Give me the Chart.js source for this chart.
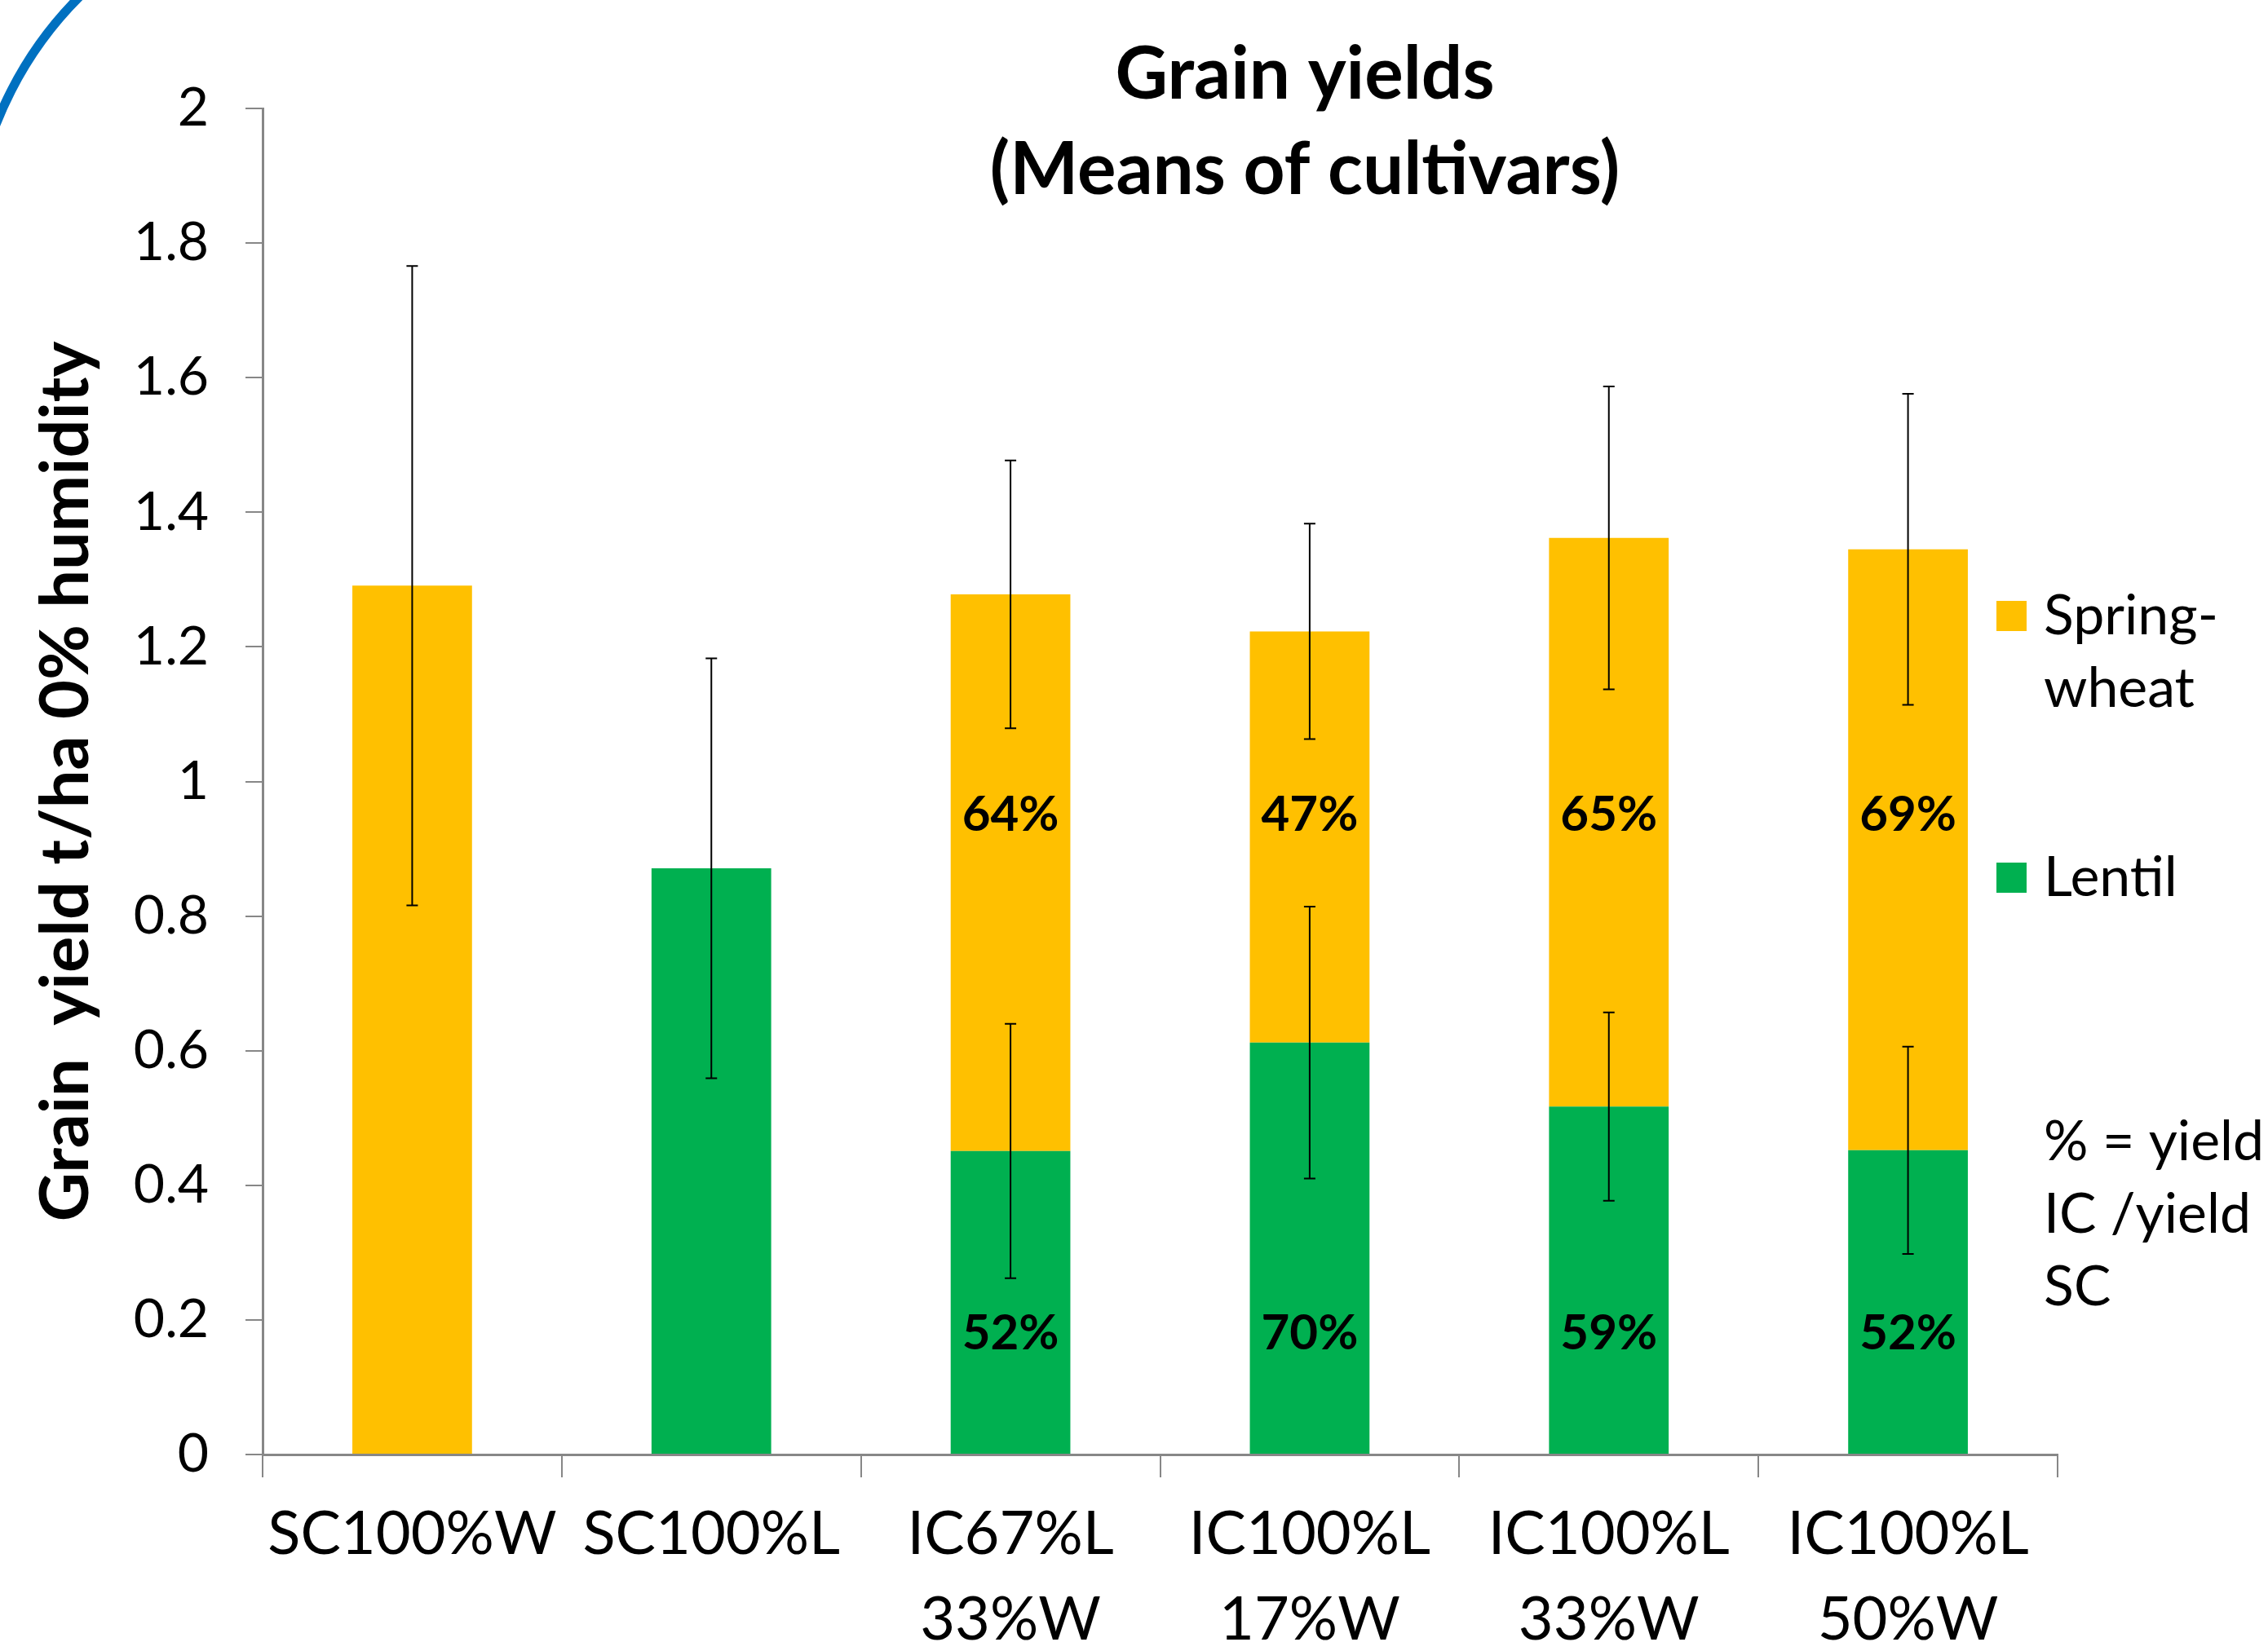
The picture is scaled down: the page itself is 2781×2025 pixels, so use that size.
<!DOCTYPE html>
<html>
<head>
<meta charset="utf-8">
<script src="https://cdn.jsdelivr.net/npm/chart.js@4.4.1/dist/chart.umd.min.js"></script>
<style>
  html, body { margin: 0; padding: 0; background: #ffffff; }
  #wrap { width: 2781px; height: 2025px; }
</style>
</head>
<body>
<div id="wrap"><canvas id="grainYieldChart" width="2781" height="2025"></canvas></div>
<script>
// categories (multi-line x labels)
const categories = [
    ['SC100%W'],
    ['SC100%L'],
    ['IC67%L', '33%W'],
    ['IC100%L', '17%W'],
    ['IC100%L', '33%W'],
    ['IC100%L', '50%W']
];

// grain yield, t/ha (stacked: lentil at the bottom, spring-wheat on top)
const lentilYield = [null, 0.871, 0.451, 0.612, 0.517, 0.452];
const wheatYield  = [1.291, null, 0.827, 0.611, 0.845, 0.893];

// +/- error (drawn at the top of each segment)
const lentilErr = [null, 0.312, 0.189, 0.202, 0.140, 0.154];
const wheatErr  = [0.475, null, 0.199, 0.160, 0.225, 0.231];

// yield IC / yield SC labels
const lentilPct = [null, null, '52%', '70%', '59%', '52%'];
const wheatPct  = [null, null, '64%', '47%', '65%', '69%'];

const yTickLabels = ['0', '0.2', '0.4', '0.6', '0.8', '1', '1.2', '1.4', '1.6', '1.8', '2'];

const titleLines = ['Grain yields', '(Means of cultivars)'];
const noteLines = ['% = yield', 'IC /yield', 'SC'];

const FONT = 'Lato, "Open Sans", sans-serif';
const WHEAT = '#FFC000';
const LENTIL = '#00B050';
const AXIS_GREY = '#878787';

/* Draws the error bars, the % labels, the title, the legend and the
   blue slide arc. Everything is placed through the chart's own scales. */
const extrasPlugin = {
    id: 'extras',
    beforeDraw(chart) {
        const ctx = chart.ctx;
        ctx.save();
        ctx.fillStyle = '#ffffff';
        ctx.fillRect(0, 0, chart.width, chart.height);
        // slide decoration arc in the top-left corner
        ctx.strokeStyle = '#0070C0';
        ctx.lineWidth = 11;
        ctx.beginPath();
        ctx.arc(419, 318, 455, Math.PI * 0.9, Math.PI * 1.5);
        ctx.stroke();
        ctx.restore();
    },
    afterDatasetsDraw(chart) {
        const ctx = chart.ctx;
        const x = chart.scales.x;
        const y = chart.scales.y;
        ctx.save();

        // error bars
        ctx.strokeStyle = '#000000';
        ctx.lineWidth = 2;
        const cap = 7;
        categories.forEach((c, i) => {
            const cx = x.getPixelForValue(i);
            const bars = [];
            if (lentilErr[i] != null) bars.push([lentilYield[i] || 0, lentilErr[i]]);
            if (wheatErr[i] != null) bars.push([(lentilYield[i] || 0) + wheatYield[i], wheatErr[i]]);
            bars.forEach(([v, e]) => {
                const yt = y.getPixelForValue(v + e);
                const yb = y.getPixelForValue(v - e);
                ctx.beginPath();
                ctx.moveTo(cx, yt); ctx.lineTo(cx, yb);
                ctx.moveTo(cx - cap, yt); ctx.lineTo(cx + cap, yt);
                ctx.moveTo(cx - cap, yb); ctx.lineTo(cx + cap, yb);
                ctx.stroke();
            });
        });

        // percentage labels
        ctx.fillStyle = '#000000';
        ctx.font = 'bold 60px ' + FONT;
        ctx.textAlign = 'center';
        ctx.textBaseline = 'middle';
        categories.forEach((c, i) => {
            const cx = x.getPixelForValue(i);
            if (wheatPct[i]) ctx.fillText(wheatPct[i], cx, y.getPixelForValue(0.95));
            if (lentilPct[i]) ctx.fillText(lentilPct[i], cx, y.getPixelForValue(0.18));
        });

        // title
        ctx.font = 'bold 89px ' + FONT;
        ctx.textBaseline = 'alphabetic';
        ctx.fillText(titleLines[0], 1600, 121);
        ctx.fillText(titleLines[1], 1600, 238);

        // legend (stack order reversed, like the source)
        ctx.textAlign = 'left';
        ctx.textBaseline = 'middle';
        ctx.font = '68px ' + FONT;
        const items = chart.data.datasets.slice().reverse();
        const rows = [756, 1077];
        items.forEach((ds, k) => {
            const top = rows[k];
            ctx.fillStyle = ds.backgroundColor;
            ctx.fillRect(2448, top - 19, 37, 37);
            ctx.fillStyle = '#000000';
            const parts = ds.label.includes('-') ? [ds.label.split('-')[0] + '-', ds.label.split('-')[1]] : [ds.label];
            parts.forEach((p, j) => ctx.fillText(p, 2506, top + j * 89));
        });
        noteLines.forEach((t, j) => ctx.fillText(t, 2506, 1401 + j * 89));

        ctx.restore();
    }
};

new Chart(document.getElementById('grainYieldChart').getContext('2d'), {
    type: 'bar',
    data: {
        labels: categories,
        datasets: [
            {
                label: 'Lentil',
                data: lentilYield,
                backgroundColor: LENTIL,
                categoryPercentage: 1,
                barPercentage: 0.4
            },
            {
                label: 'Spring-wheat',
                data: wheatYield,
                backgroundColor: WHEAT,
                categoryPercentage: 1,
                barPercentage: 0.4
            }
        ]
    },
    options: {
        responsive: false,
        animation: false,
        devicePixelRatio: 1,
        layout: { padding: { left: 0, right: 258, top: 133, bottom: 0 } },
        plugins: {
            legend: { display: false },
            title: { display: false },
            tooltip: { enabled: false }
        },
        scales: {
            x: {
                stacked: true,
                afterFit: (s) => { s.height = 241; },
                border: { color: AXIS_GREY, width: 3 },
                grid: {
                    offset: true,
                    drawOnChartArea: false,
                    drawTicks: true,
                    tickLength: 28,
                    color: AXIS_GREY,
                    lineWidth: 2
                },
                ticks: {
                    color: '#000000',
                    padding: 18,
                    maxRotation: 0,
                    autoSkip: false,
                    font: { family: FONT, size: 74, lineHeight: 1.42 }
                }
            },
            y: {
                stacked: true,
                min: 0,
                max: 2,
                afterFit: (s) => { s.width = 322; },
                border: { color: AXIS_GREY, width: 3 },
                grid: {
                    drawOnChartArea: false,
                    drawTicks: true,
                    tickLength: 21,
                    color: AXIS_GREY,
                    lineWidth: 2
                },
                ticks: {
                    stepSize: 0.2,
                    color: '#000000',
                    padding: 45,
                    font: { family: FONT, size: 66 },
                    callback: (v, i) => yTickLabels[i]
                },
                title: {
                    display: true,
                    text: 'Grain  yield t/ha 0% humidity',
                    color: '#000000',
                    font: { family: FONT, size: 83, weight: 'bold' },
                    padding: { top: 31, bottom: 0 }
                }
            }
        }
    },
    plugins: [extrasPlugin]
});
</script>
</body>
</html>
